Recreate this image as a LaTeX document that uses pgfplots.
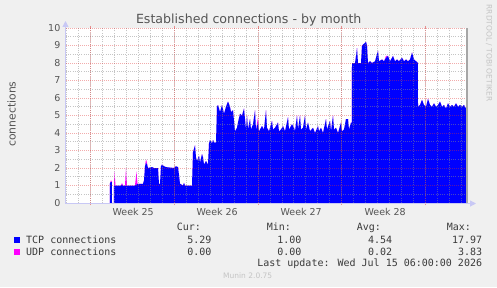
\documentclass[border=0pt]{standalone}
\usepackage{fontspec}
\setmainfont{DejaVu Sans}
\newfontfamily\monofont{DejaVu Sans Mono}
\usepackage{pgfplots}
\pgfplotsset{compat=1.18}
\usepackage{pgfplotstable}
\usetikzlibrary{arrows.meta}
\definecolor{bgc}{HTML}{F0F0F0}
\definecolor{txt}{HTML}{555555}
\definecolor{legtxt}{HTML}{3A3A3A}
\definecolor{axc}{HTML}{C8C8F5}
\definecolor{mgrid}{HTML}{E03030}
\definecolor{ngrid}{HTML}{8C8C8C}
\definecolor{tcpc}{HTML}{0000FF}
\definecolor{udpc}{HTML}{FF00FF}
\definecolor{faint}{HTML}{C4C4C4}

\pgfplotstableread{
x tcp udp
0 0 0
43.9 0 0
44 1.15 0
45 1.2 0.1
45.9 1.2 0
46 0 0
47.9 0 0
48 1.0 0
48.5 1.0 0.8
49.5 1.0 0
55 1.0 0
56 1.05 0.1
57 1.0 0
59 1.0 0
60 1.0 1.0
61 1.0 0
69 1.0 0
70.5 1.05 0.75
71.5 1.1 0
77 1.1 0
78 1.3 0
79 2.1 0
80 2.3 0.2
81 2.2 0.1
82 2.0 0
86 2.05 0
88 2.0 0
92 2.0 0
93 1.1 0
94 1.1 0
95 2.1 0
96 2.2 0
98 2.1 0
100 2.05 0
108 2.0 0
110 2.1 0
112 2.05 0
113 1.6 0
114 1.1 0
117 1.0 0
118 1.15 0
119 1.0 0
126 1.0 0
127 2.9 0
129 3.3 0
130 2.6 0
131 2.4 0
133 2.7 0
134 2.3 0
136 2.8 0
137 2.6 0
138 2.2 0
140 2.4 0
141 2.3 0
142 2.2 0
143 3.4 0
144 3.6 0
146 3.4 0
147 3.6 0
149 3.4 0
150 3.5 0
151 5.5 0
152 5.6 0
154 5.2 0
156 5.6 0
158 5.1 0
160 5.5 0
162 5.8 0
164 5.5 0
165 5.2 0
167 5.3 0
169 4.1 0
171 4.3 0
172 4.6 0
174 5.1 0
176 5.0 0
178 5.4 0
180 4.2 0
181 5.0 0
182 4.2 0
184 4.8 0
185 4.2 0
187 4.5 0
189 5.3 0
190 4.2 0
192 4.6 0.3
193 4.1 0
196 4.4 0
198 4.2 0
200 5.3 0
201 4.3 0
203 4.1 0
206 4.7 0
207 4.2 0
209 4.3 0
212 4.6 0
213 4.1 0
215 4.2 0
217 4.4 0
219 4.1 0
222 4.9 0
223 4.2 0
226 4.5 0
228 4.3 0
229 4.1 0
231 5.0 0
232 4.2 0
234 5.0 0
235 4.2 0
237 4.3 0
239 5.0 0
240 4.2 0
242 4.6 0
244 4.1 0
247 4.3 0
249 4.0 0
252 4.4 0
253 4.1 0
255 4.3 0
257 4.0 0
260 4.8 0
261 4.2 0
264 4.7 0
265 4.1 0
267 5.0 0
268 4.2 0
270 4.3 0
272 4.0 0
275 4.6 0
276 4.1 0
278 4.2 0
280 4.8 0
282 4.8 0
283 4.2 0
285 4.6 0
285.9 4.6 0
286 8.0 0
289 8.0 0
290 8.4 0
291 8.85 0
292 8.0 0
295 8.0 0
296 9.0 0
298 9.1 0
300 9.2 0
301 9.0 0
302 8.0 0
304 8.1 0
306 8.0 0
309 8.1 0
312 8.7 0
313 8.1 0
316 8.2 0
318 8.1 0
320 8.3 0.1
322 8.4 0
324 8.1 0
327 8.4 0
329 8.1 0
331 8.2 0
333 8.1 0
336 8.3 0
338 8.1 0
340 8.2 0
342 8.1 0
344 8.2 0
346 8.6 0
348 8.2 0
350 8.1 0
351.9 8.0 0
352 5.5 0
354 5.6 0
356 5.9 0
358 5.6 0
360 5.5 0
362 5.95 0
364 5.6 0
366 5.5 0
368 5.7 0
370 5.5 0
372 5.6 0
374 5.8 0
376 5.5 0
378 5.6 0
380 5.4 0
382 5.7 0
384 5.5 0
386 5.6 0
388 5.5 0
390 5.7 0
392 5.5 0
394 5.6 0
396 5.5 0
398 5.6 0
400 5.4 0
}\conn

\begin{document}
\begin{tikzpicture}[x=1pt,y=1pt]
\useasboundingbox (0,0) rectangle (497,287);
\fill[bgc] (0,0) rectangle (497,287);
\begin{axis}[
  at={(66pt,84pt)}, anchor=south west,
  width=400pt, height=175pt, scale only axis,
  xmin=0, xmax=400, ymin=0, ymax=10,
  axis background/.style={fill=white},
  axis line style={draw=none},
  axis on top,
  stack plots=y,
  ytick={0,1,...,10},
  minor ytick={0.5,1.5,...,9.5},
  ymajorgrids, yminorgrids,
  xtick={67.2,151.2,235.2,319.2},
  xticklabels={Week 25,Week 26,Week 27,Week 28},
  minor xtick={0.8,12.75,...,395.2},
  xminorgrids,
  extra x ticks={24.7,108.35,192,275.65,359.3},
  extra x tick labels={},
  extra x tick style={grid=major, major tick length=2pt, tick style={mgrid, opacity=0.5, line width=1pt}},
  major grid style={mgrid, opacity=0.4, line width=0.8pt, dash pattern=on 1pt off 1pt},
  minor grid style={ngrid, opacity=0.5, line width=0.8pt, dash pattern=on 1pt off 1.2pt},
  tick align=outside,
  major tick length=0pt,
  minor tick length=0pt,
  tick label style={font=\fontsize{9.5}{11}\selectfont, text=txt},
  /pgf/number format/assume math mode=true,
  yticklabel style={anchor=east, inner sep=0pt, xshift=-5.5pt},
  xticklabel style={anchor=base, inner sep=0pt, yshift=-12.7pt},
]
\addplot[fill=tcpc, draw=none] table[x=x, y=tcp] {\conn} \closedcycle;
\addplot[fill=udpc, draw=none] table[x=x, y=udp] {\conn} \closedcycle;
\end{axis}
% axes
\draw[axc, line width=1pt, -{Triangle[length=6pt,width=6pt]}] (66,83.5) -- (476,83.5);
\draw[axc, line width=1pt, -{Triangle[length=6pt,width=6pt]}] (65.5,83.5) -- (65.5,266);
\draw[gray!70, line width=1.5pt] (466.8,84) -- (466.8,259);
% title and labels
\node[anchor=base, text=txt, font=\fontsize{12.6}{14}\selectfont] at (248.7,263) {Established connections - by month};
\node[rotate=90, text=txt, font=\fontsize{10.8}{12}\selectfont] at (11.5,173) {connections};
\node[rotate=-90, text=faint, font=\fontsize{7.5}{9}\selectfont] at (489,234) {RRDTOOL / TOBI OETIKER};
% legend
\begin{scope}[font=\monofont\fontsize{10}{12}\selectfont, text=legtxt]
\node[anchor=base west, inner sep=0pt] at (176.7,56.3) {Cur:};
\node[anchor=base west, inner sep=0pt] at (266.7,56.3) {Min:};
\node[anchor=base west, inner sep=0pt] at (356.7,56.3) {Avg:};
\node[anchor=base west, inner sep=0pt] at (446.7,56.3) {Max:};
\fill[tcpc] (14,44) rectangle (20,50);
\node[anchor=base west, inner sep=0pt] at (26,43.7) {TCP connections};
\node[anchor=base east, inner sep=0pt] at (211.7,43.7) {5.29};
\node[anchor=base east, inner sep=0pt] at (301.7,43.7) {1.00};
\node[anchor=base east, inner sep=0pt] at (392.3,43.7) {4.54};
\node[anchor=base east, inner sep=0pt] at (482.3,43.7) {17.97};
\fill[udpc] (14,32) rectangle (20,38);
\node[anchor=base west, inner sep=0pt] at (26,31.6) {UDP connections};
\node[anchor=base east, inner sep=0pt] at (211.7,31.6) {0.00};
\node[anchor=base east, inner sep=0pt] at (301.7,31.6) {0.00};
\node[anchor=base east, inner sep=0pt] at (392.3,31.6) {0.02};
\node[anchor=base east, inner sep=0pt] at (482.3,31.6) {3.83};
\node[anchor=base east, inner sep=0pt] at (482.3,20.3) {Last update: Wed Jul 15 06:00:00 2026};
\end{scope}
\node[text=faint, font=\fontsize{7.5}{9}\selectfont] at (247.7,11) {Munin 2.0.75};
\end{tikzpicture}
\end{document}
